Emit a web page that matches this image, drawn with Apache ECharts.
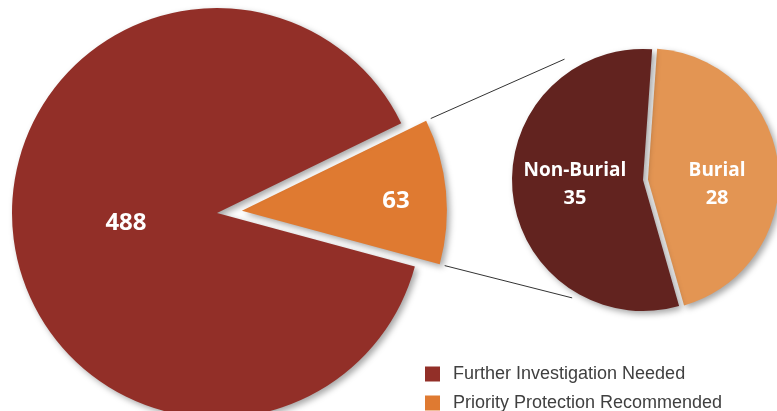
<!DOCTYPE html>
<html><head><meta charset="utf-8">
<script src="https://cdn.jsdelivr.net/npm/echarts@6/dist/echarts.min.js"></script>
<style>html,body{margin:0;padding:0;background:#fff}#chart{width:777px;height:411px}</style>
</head><body><div id="chart"></div>
<script>
// ---- data ----
const mainCategories = ['Further Investigation Needed', 'Priority Protection Recommended'];
const mainValues = [488, 63];
const subCategories = ['Non-Burial', 'Burial'];
const subValues = [35, 28];

// ---- styling / layout ----
const mainColors = ['#922F28', '#DF7A31'];
const subColors = ['#62231F', '#E39553'];
const C1 = [217, 213], R1 = 205, OFF1 = 25;
const C2 = [643, 180], R2 = 131, OFF2 = 5;
const START1 = 26;   // orange slice starts here (deg, ccw from 3 o'clock)
const START2 = 86;   // burial slice starts here

const total1 = mainValues[0] + mainValues[1];
const span1 = mainValues[1] / total1 * 360;
const mid1 = (START1 - span1 / 2) * Math.PI / 180;
const rad = d => d * Math.PI / 180;
const off1 = [OFF1 * Math.cos(mid1), -OFF1 * Math.sin(mid1)];
function pt(c, r, deg, o) { o = o || [0, 0]; return [c[0] + o[0] + r * Math.cos(rad(deg)), c[1] + o[1] - r * Math.sin(rad(deg))]; }
const lineA1 = pt(C1, R1 * 1.025, START1, off1);
const lineB1 = pt(C1, R1 * 1.025, START1 - span1, off1);
const lineA2 = pt(C2, R2 * 1.10, 123);
const lineB2 = pt(C2, R2 * 1.05, -121);

const shadow = { shadowBlur: 6, shadowOffsetX: 3, shadowOffsetY: 3, shadowColor: 'rgba(0,0,0,0.35)' };
const font = '"Open Sans", "Noto Sans", sans-serif';
const legendText = { fontFamily: '"Liberation Sans", Arial, sans-serif', fontSize: 18, color: '#404040', padding: [0, 0, 0, 8] };

function legendFor(name, top) {
  return {
    data: [name], orient: 'vertical', left: 425, top: top,
    itemWidth: 15, itemHeight: 15, itemGap: 0, padding: 0,
    icon: 'rect', textStyle: legendText, selectedMode: false
  };
}

const chart = echarts.init(document.getElementById('chart'), null, { renderer: 'canvas' });
chart.setOption({
  animation: false,
  backgroundColor: '#ffffff',
  legend: [legendFor(mainCategories[0], 365), legendFor(mainCategories[1], 394)],
  graphic: [
    { type: 'line', shape: { x1: lineA1[0], y1: lineA1[1], x2: lineA2[0], y2: lineA2[1] }, style: { stroke: '#333', lineWidth: 1 }, silent: true },
    { type: 'line', shape: { x1: lineB1[0], y1: lineB1[1], x2: lineB2[0], y2: lineB2[1] }, style: { stroke: '#333', lineWidth: 1 }, silent: true }
  ],
  series: [
    {
      type: 'pie', name: 'main', center: C1, radius: R1,
      startAngle: START1, clockwise: true,
      selectedMode: 'single', selectedOffset: OFF1,
      avoidLabelOverlap: false,
      itemStyle: shadow,
      label: { position: 'inside', formatter: '{c}', color: '#fff', fontFamily: font, fontWeight: 'bold', fontSize: 24 },
      labelLine: { show: false },
      emphasis: { disabled: true },
      labelLayout: function (p) { return p.dataIndex === 0 ? { dx: 49, dy: 0 } : { dx: 14, dy: 0 }; },
      data: [
        { name: mainCategories[1], value: mainValues[1], selected: true, itemStyle: { color: mainColors[1] } },
        { name: mainCategories[0], value: mainValues[0], itemStyle: { color: mainColors[0] } }
      ]
    },
    {
      type: 'pie', name: 'sub', center: C2, radius: R2,
      startAngle: START2, clockwise: true,
      selectedMode: 'single', selectedOffset: OFF2,
      avoidLabelOverlap: false,
      itemStyle: shadow,
      label: {
        position: 'inside', formatter: '{t|{b}}\n{n|{c}}', color: '#fff',
        rich: {
          t: { color: '#fff', fontFamily: font, fontWeight: 'bold', fontSize: 19, lineHeight: 28 },
          n: { color: '#fff', fontFamily: font, fontWeight: 'bold', fontSize: 20, lineHeight: 28 }
        }
      },
      labelLine: { show: false },
      emphasis: { disabled: true },
      labelLayout: function (p) { return p.dataIndex === 0 ? { dx: 1, dy: 12 } : { dx: 0, dy: -3 }; },
      data: [
        { name: subCategories[1], value: subValues[1], selected: true, itemStyle: { color: subColors[1] } },
        { name: subCategories[0], value: subValues[0], itemStyle: { color: subColors[0] } }
      ]
    }
  ]
});
</script></body></html>
